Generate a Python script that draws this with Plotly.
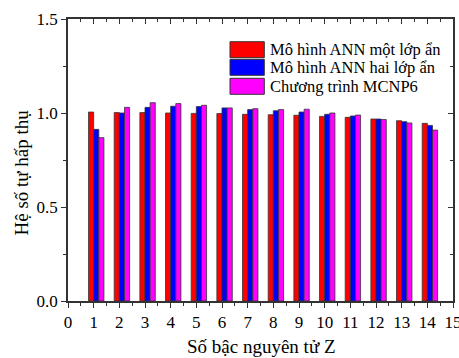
import plotly.graph_objects as go

# Atomic number Z and self-absorption coefficients for each method
z_values = list(range(1, 15))
ann_one_layer = [1.005, 1.002, 1.002, 1.000, 0.998, 0.997, 0.993, 0.991, 0.988, 0.982, 0.977, 0.968, 0.959, 0.945]
ann_two_layer = [0.913, 1.000, 1.030, 1.036, 1.034, 1.027, 1.018, 1.012, 1.005, 0.993, 0.984, 0.968, 0.954, 0.934]
mcnp6 = [0.869, 1.030, 1.055, 1.050, 1.041, 1.027, 1.023, 1.018, 1.020, 1.000, 0.989, 0.965, 0.947, 0.909]

series_names = ["Mô hình ANN một lớp ẩn", "Mô hình ANN hai lớp ẩn", "Chương trình MCNP6"]
series_colors = ["#FF0000", "#0000FF", "#FF00FF"]
series_values = [ann_one_layer, ann_two_layer, mcnp6]
bar_offsets = [-0.2, 0.0, 0.2]

x_title = "Số bậc nguyên tử Z"
y_title = "Hệ số tự hấp thụ"
x_tick_vals = list(range(0, 16))
y_tick_vals = [0.0, 0.5, 1.0, 1.5]
y_tick_text = ["0.0", "0.5", "1.0", "1.5"]

FONT = "Liberation Serif"
AXIS_COLOR = "#333333"
W, H = 459, 358
ML, MR, MT, MB = 68, 6, 19, 57

fig = go.Figure()
for name, color, vals, off in zip(series_names, series_colors, series_values, bar_offsets):
    fig.add_trace(go.Bar(
        x=z_values, y=vals, name=name,
        width=0.2, offset=off,
        marker=dict(color=color, line=dict(color="#333333", width=0.8)),
        showlegend=False,
    ))

# Empty trace so the mirrored top/right frame axes get drawn
fig.add_trace(go.Scatter(x=[], y=[], xaxis="x2", yaxis="y2",
                         showlegend=False, hoverinfo="skip"))

common = dict(showgrid=False, zeroline=False, showline=True, automargin=False,
              linecolor=AXIS_COLOR, linewidth=1.5, tickcolor=AXIS_COLOR,
              tickwidth=1.2)

fig.update_layout(
    width=W, height=H,
    margin=dict(l=ML, r=MR, t=MT, b=MB, autoexpand=False),
    paper_bgcolor="white", plot_bgcolor="white",
    barmode="overlay",
    font=dict(family=FONT, size=17, color="black"),
    xaxis=dict(range=[0, 15], tickvals=x_tick_vals,
               ticks="outside", ticklen=5, ticklabeloverflow="allow",
               minor=dict(dtick=0.5, ticks="outside", ticklen=3, tickcolor=AXIS_COLOR),
               tickfont=dict(family=FONT, size=17), **common),
    yaxis=dict(range=[0, 1.5], tickvals=y_tick_vals, ticktext=y_tick_text,
               ticks="outside", ticklen=5,
               minor=dict(dtick=0.25, ticks="outside", ticklen=3, tickcolor=AXIS_COLOR),
               tickfont=dict(family=FONT, size=17), **common),
    xaxis2=dict(range=[0, 15], overlaying="x", side="top", tickvals=x_tick_vals,
                ticks="inside", ticklen=5, showticklabels=False,
                minor=dict(dtick=0.5, ticks="inside", ticklen=3, tickcolor=AXIS_COLOR),
                **common),
    yaxis2=dict(range=[0, 1.5], overlaying="y", side="right", tickvals=y_tick_vals,
                ticks="inside", ticklen=5, showticklabels=False,
                minor=dict(dtick=0.25, ticks="inside", ticklen=3, tickcolor=AXIS_COLOR),
                **common),
)

pw = W - ML - MR
ph = H - MT - MB


def px_x(p):
    return (p - ML) / pw


def px_y(p):
    return (H - MB - p) / ph


# Axis titles
fig.add_annotation(text=x_title, xref="paper", yref="paper",
                   x=px_x(261), y=px_y(346), showarrow=False,
                   font=dict(family=FONT, size=19), xanchor="center", yanchor="middle")
fig.add_annotation(text=y_title, xref="paper", yref="paper",
                   x=px_x(20.5), y=px_y(173), showarrow=False, textangle=-90,
                   font=dict(family=FONT, size=19), xanchor="center", yanchor="middle")

# Legend: large swatches with labels
sw_left, sw_right = 230, 264.3
row_tops = [41.7, 59.3, 78.3]
sw_h = 16
for name, color, top in zip(series_names, series_colors, row_tops):
    fig.add_shape(type="rect", xref="paper", yref="paper",
                  x0=px_x(sw_left), x1=px_x(sw_right),
                  y0=px_y(top + sw_h), y1=px_y(top),
                  fillcolor=color, line=dict(color="#333333", width=1))
    fig.add_annotation(text=name, xref="paper", yref="paper",
                       x=px_x(268), y=px_y(top + sw_h / 2), showarrow=False,
                       xanchor="left", yanchor="middle",
                       font=dict(family=FONT, size=16.5))

fig.write_html("out.html")
